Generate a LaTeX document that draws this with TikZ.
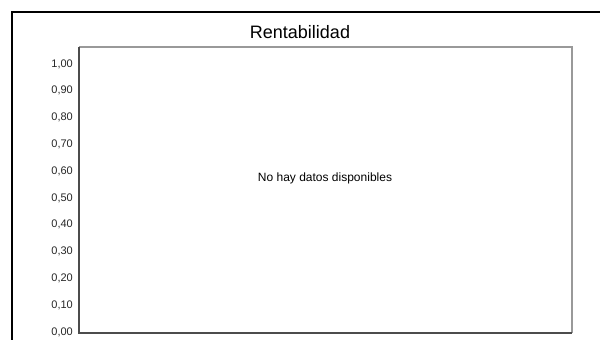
\documentclass[tikz,border=0pt]{standalone}
\usepackage{fontspec}
\setmainfont{Liberation Sans}
\usepackage{tikz}
\usetikzlibrary{positioning}

\begin{document}
\begin{tikzpicture}[x=1pt,y={(0pt,-1pt)},inner sep=0pt,
    ylab/.style={anchor=east,font=\fontsize{11}{12}\selectfont,text=black!85}]
      \useasboundingbox (0,0) rectangle (600,340);
      % outer frame
      \draw[line width=1.8pt] (12,340) -- (12,12) -- (600,12);
      \node (T) at (300,32) {\fontsize{18}{20}\selectfont Rentabilidad};
      % plot area
      \coordinate (P1) at (79,333);
      \coordinate (P2) at (572,47);
      \draw[line width=1.4pt,black!40] (P1 |- P2) -- (P2) -- (P2 |- P1);
      \draw[line width=1.4pt,black!70] (P1 |- P2) -- (P1) -- (P2 |- P1);
      \node (M) at (325,178) {\fontsize{12}{14}\selectfont No hay datos disponibles};
      \node[ylab] (Y0)  at (73,332)   {0,00};
      \node[ylab] (Y1)  at (73,305.2) {0,10};
      \node[ylab] (Y2)  at (73,278.4) {0,20};
      \node[ylab] (Y3)  at (73,251.6) {0,30};
      \node[ylab] (Y4)  at (73,224.8) {0,40};
      \node[ylab] (Y5)  at (73,198)   {0,50};
      \node[ylab] (Y6)  at (73,171.2) {0,60};
      \node[ylab] (Y7)  at (73,144.4) {0,70};
      \node[ylab] (Y8)  at (73,117.6) {0,80};
      \node[ylab] (Y9)  at (73,90.8)  {0,90};
      \node[ylab] (Y10) at (73,64)    {1,00};
    \end{tikzpicture}
\end{document}
